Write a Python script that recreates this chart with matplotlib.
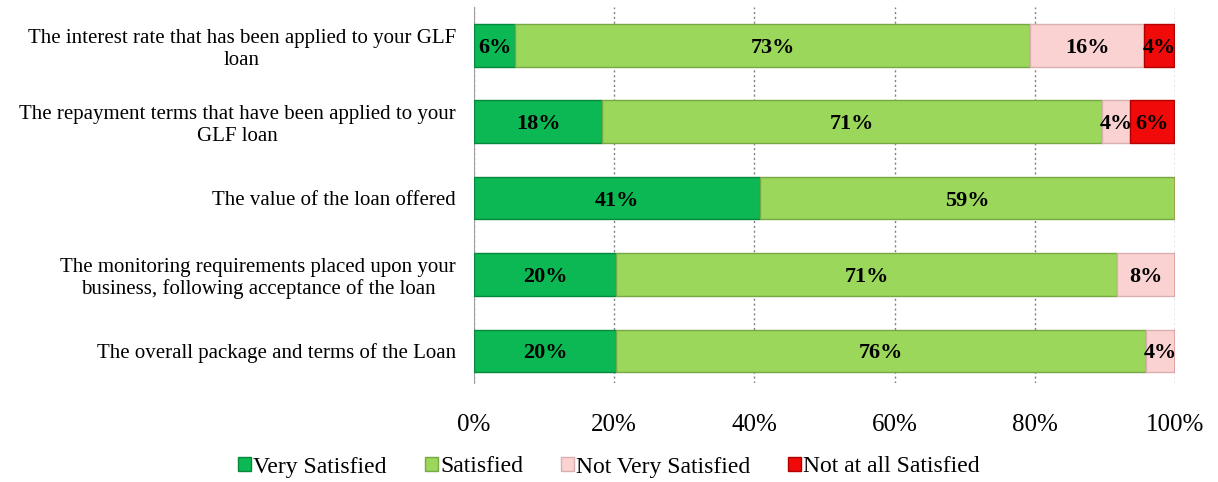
import matplotlib.pyplot as plt
from matplotlib.ticker import PercentFormatter

categories = [
    "The interest rate that has been applied to your GLF\nloan",
    "The repayment terms that have been applied to your\nGLF loan",
    "The value of the loan offered",
    "The monitoring requirements placed upon your\nbusiness, following acceptance of the loan",
    "The overall package and terms of the Loan",
]
series = ["Very Satisfied", "Satisfied", "Not Very Satisfied", "Not at all Satisfied"]
very_satisfied = [5.9, 18.3, 40.8, 20.3, 20.3]
satisfied = [73.4, 71.3, 59.2, 71.4, 75.6]
not_very_satisfied = [16.3, 4.0, 0, 8.3, 4.1]
not_at_all_satisfied = [4.3, 6.3, 0, 0, 0]

colors = ["#0BB853", "#9BD75A", "#FAD2D2", "#F00A0A"]
edges = ["#07893D", "#78A845", "#D9AFAF", "#B00000"]

plt.rcParams["font.family"] = ["Liberation Serif", "DejaVu Serif"]

fig = plt.figure(figsize=(12.18, 4.82), dpi=100)
ax = fig.add_axes([474 / 1218, 1 - 383 / 482, 701 / 1218, 376 / 482])

values = [very_satisfied, satisfied, not_very_satisfied, not_at_all_satisfied]
y = list(range(len(categories)))
left = [0] * len(categories)
for name, vals, c, ec in zip(series, values, colors, edges):
    bars = ax.barh(y, vals, left=left, height=0.56, color=c, edgecolor=ec,
                   linewidth=1, label=name, zorder=3)
    for b, v in zip(bars, vals):
        if v > 0:
            ax.text(b.get_x() + b.get_width() / 2, b.get_y() + b.get_height() / 2,
                    f"{round(v):.0f}%", ha="center", va="center_baseline",
                    fontsize=16, fontweight="bold", zorder=4)
    left = [l + v for l, v in zip(left, vals)]

ax.set_xlim(0, 100)
ax.set_ylim(4.42, -0.5)
ax.set_yticks(y)
ax.set_yticklabels(categories, fontsize=15)
for lab in ax.get_yticklabels():
    lab.set_multialignment("center")
ax.xaxis.set_major_formatter(PercentFormatter(decimals=0))
ax.set_xticks([0, 20, 40, 60, 80, 100])
ax.tick_params(axis="x", labelsize=18, length=0, pad=22)
ax.tick_params(axis="y", length=0, pad=13)
ax.grid(axis="x", linestyle=(0, (1.5, 2)), color="#808080", linewidth=1, zorder=0)
for s in ["top", "right", "bottom"]:
    ax.spines[s].set_visible(False)
ax.spines["left"].set_color("#A0A0A0")

fig.legend(loc="center", bbox_to_anchor=(609 / 1218, 1 - 467 / 482), ncol=4,
           frameon=False, fontsize=17, handlelength=0.55, handleheight=0.55,
           handletextpad=0.1, columnspacing=1.6)

fig.savefig("out.png", dpi=100)
